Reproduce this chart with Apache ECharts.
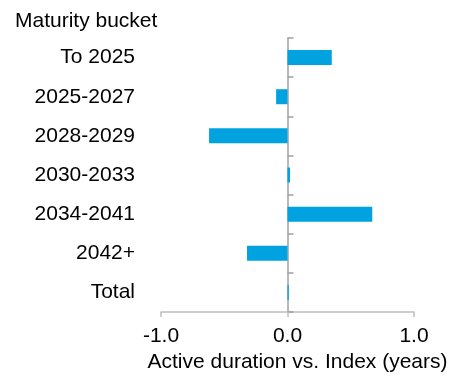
<!DOCTYPE html>
<html>
<head>
<meta charset="utf-8">
<script src="https://cdn.jsdelivr.net/npm/echarts@6/dist/echarts.min.js"></script>
<style>
  html, body { margin: 0; padding: 0; background: #fff; }
  #chart { width: 451px; height: 376px; }
</style>
</head>
<body>
<div id="chart"></div>
<script>
// Maturity buckets, top to bottom
const buckets = ['To 2025', '2025-2027', '2028-2029', '2030-2033', '2034-2041', '2042+', 'Total'];
// Active duration vs. index, in years
const activeDuration = [0.35, -0.09, -0.62, 0.02, 0.67, -0.32, 0.01];
// Value axis ticks
const xTicks = [-1.0, 0.0, 1.0];

const FONT = 'Liberation Sans, Arial, sans-serif';
const FS = 21;
const chart = echarts.init(document.getElementById('chart'));

chart.setOption({
  animation: false,
  title: {
    text: 'Maturity bucket',
    left: 15,
    top: 11,
    padding: 0,
    textStyle: { fontFamily: FONT, fontSize: FS, fontWeight: 'normal', color: '#000' }
  },
  grid: { left: 161, right: 37, top: 38, bottom: 64, containLabel: false, outerBoundsMode: 'none' },
  xAxis: {
    type: 'value',
    min: xTicks[0],
    max: xTicks[xTicks.length - 1],
    interval: 1,
    splitLine: { show: false },
    axisLine: { show: true, lineStyle: { color: '#bfbfbf', width: 1.5 } },
    axisTick: { show: true, length: 5, lineStyle: { color: '#bfbfbf', width: 1.5 } },
    axisLabel: {
      margin: 14,
      fontFamily: FONT, fontSize: FS, color: '#000',
      formatter: v => v.toFixed(1)
    },
    name: 'Active duration vs. Index (years)',
    nameLocation: 'middle',
    nameGap: 39,
    nameTextStyle: { fontFamily: FONT, fontSize: FS, color: '#000', padding: [0, 0, 0, 20] }
  },
  yAxis: [
    {
      // zero line with boundary ticks
      type: 'category',
      data: buckets,
      inverse: true,
      axisLine: { show: true, onZero: true, lineStyle: { color: '#a0a0a0', width: 1.5 } },
      axisTick: { show: true, inside: true, length: 6, lineStyle: { color: '#a0a0a0', width: 1.5 } },
      axisLabel: { show: false },
      splitLine: { show: false }
    },
    {
      // bucket labels on the left edge
      type: 'category',
      data: buckets,
      inverse: true,
      position: 'left',
      axisLine: { show: false, onZero: false },
      axisTick: { show: false },
      axisLabel: { margin: 26, fontFamily: FONT, fontSize: FS, color: '#000' },
      splitLine: { show: false }
    }
  ],
  series: [{
    type: 'bar',
    yAxisIndex: 0,
    data: activeDuration,
    barWidth: 15,
    itemStyle: { color: '#00a2e0' }
  }]
});
</script>
</body>
</html>
